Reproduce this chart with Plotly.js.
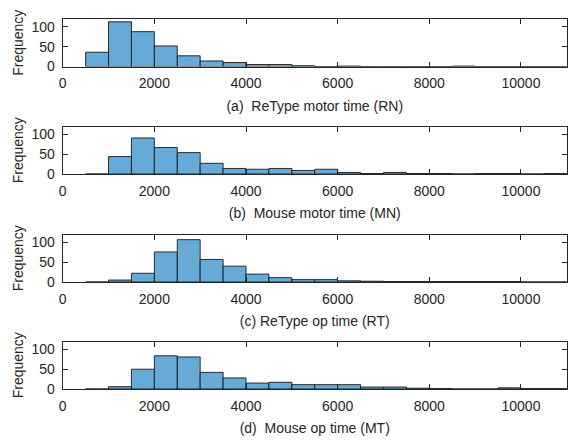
<!DOCTYPE html>
<html>
<head>
<meta charset="utf-8">
<script src="https://cdn.plot.ly/plotly-3.0.1.min.js"></script>
<style>html,body{margin:0;padding:0;background:#fff;}#chart{width:568px;height:443px;}</style>
</head>
<body>
<div id="chart"></div>
<script>
// Bin centers (bin width 500)
const binCenters = [750,1250,1750,2250,2750,3250,3750,4250,4750,5250,5750,6250,6750,7250,7750,8250,8750,9250,9750,10250,10750];
const binWidth = 500;
// Frequencies per panel
const countsRN = [36,113,88,52,27,14,10,5,5,2,0,1,0,0,0,0,1,0,0,0,0];
const countsMN = [0,44,91,67,54,27,14,12,14,9,12,4,1,4,1,1,0,1,1,0,1];
const countsRT = [0,5,22,76,107,57,40,20,11,6,6,3,2,1,1,1,1,1,1,0,0];
const countsMT = [0,6,50,84,81,42,28,15,17,11,11,11,5,5,2,1,0,0,3,1,1];
const panelTitles = ["(a)  ReType motor time (RN)","(b)  Mouse motor time (MN)","(c) ReType op time (RT)","(d)  Mouse op time (MT)"];
const xTicks = [0,2000,4000,6000,8000,10000];
const yTicks = [0,50,100];

const allCounts = [countsRN, countsMN, countsRT, countsMT];
const H = 443, W = 568;
const plotTops = [19, 126.5, 234.5, 341.5];
const plotH = 47.5;
const xL = 62.7, xR = 566.8;

const traces = [];
const layout = {
  width: W, height: H,
  margin: {l:0, r:0, t:0, b:0},
  paper_bgcolor: '#fff', plot_bgcolor: '#fff',
  showlegend: false, bargap: 0,
  font: {family: 'Liberation Sans, Arial, sans-serif', size: 14, color: '#262626'}
};
allCounts.forEach((c, i) => {
  const n = i + 1;
  const xa = n === 1 ? 'x' : 'x' + n;
  const ya = n === 1 ? 'y' : 'y' + n;
  traces.push({
    type: 'bar', x: binCenters, y: c, width: binWidth,
    xaxis: xa, yaxis: ya,
    marker: {color: 'rgb(102,170,215)', line: {color: '#1a1a1a', width: 0.9}},
    hoverinfo: 'x+y'
  });
  const top = plotTops[i], bot = top + plotH;
  layout['xaxis' + (n === 1 ? '' : n)] = {
    domain: [xL / W, xR / W], range: [0, 11000], anchor: ya,
    tickvals: xTicks, ticktext: xTicks.map(String),
    ticks: 'inside', ticklen: 5, tickcolor: '#262626', tickwidth: 1,
    showline: true, mirror: 'ticks', linecolor: '#262626', linewidth: 1,
    showgrid: false, zeroline: false,
    tickfont: {size: 14, color: '#262626'},
    ticklabelstandoff: 4,
    title: {text: panelTitles[i], font: {size: 14, color: '#262626'}, standoff: 10}
  };
  layout['yaxis' + (n === 1 ? '' : n)] = {
    domain: [1 - bot / H, 1 - top / H], range: [0, 120], anchor: xa,
    tickvals: yTicks, ticktext: yTicks.map(String),
    ticks: 'inside', ticklen: 5, tickcolor: '#262626', tickwidth: 1,
    showline: true, mirror: 'ticks', linecolor: '#262626', linewidth: 1,
    showgrid: false, zeroline: false,
    tickfont: {size: 14, color: '#262626'},
    ticklabelstandoff: 4,
    title: {text: 'Frequency', font: {size: 14, color: '#262626'}, standoff: 4}
  };
});
Plotly.newPlot('chart', traces, layout, {staticPlot: true, displayModeBar: false});
</script>
</body>
</html>
